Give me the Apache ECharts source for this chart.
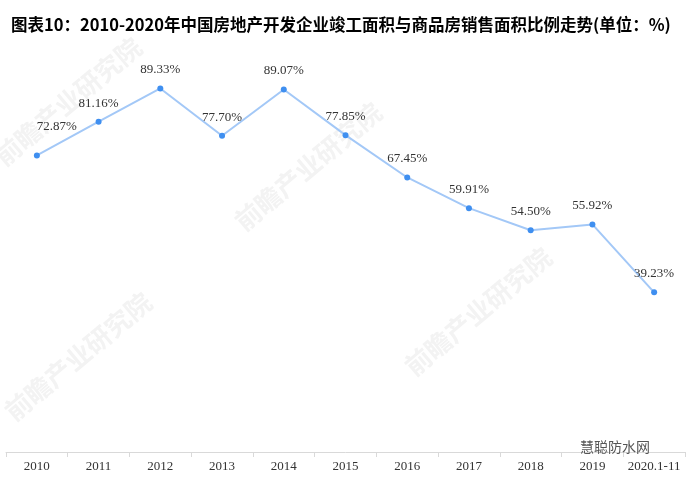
<!DOCTYPE html>
<html>
<head>
<meta charset="utf-8">
<style>
  html, body { margin: 0; padding: 0; background: #fff; }
  #myChart { width: 694px; height: 482px; }
</style>
<script src="https://cdn.jsdelivr.net/npm/echarts@6/dist/echarts.min.js"></script>
</head>
<body>
<div id="myChart"></div>
<script>
  // 年份
  var categories = ['2010', '2011', '2012', '2013', '2014', '2015', '2016', '2017', '2018', '2019', '2020.1-11'];
  // 竣工面积与销售面积比例(%)
  var ratioValues = [72.87, 81.16, 89.33, 77.70, 89.07, 77.85, 67.45, 59.91, 54.50, 55.92, 39.23];
  var titleText = '图表10：2010-2020年中国房地产开发企业竣工面积与商品房销售面积比例走势(单位：%)';

  var myChart = echarts.init(document.getElementById('myChart'));

  var seriesData = ratioValues.map(function (v, i) {
    if (i === 0) {
      // 第一个标签往右挪一点
      return { value: v, label: { offset: [20, -10] } };
    }
    return v;
  });

  function watermark(x, y) {
    return {
      type: 'text', x: x, y: y, rotation: Math.PI / 4.5, z: 0,
      style: { text: '前瞻产业研究院', fill: '#f3f3f3', font: 'bold 26px "Noto Sans CJK SC"' }
    };
  }

  var option = {
    backgroundColor: '#fff',
    animation: false,
    title: {
      text: titleText,
      left: 6,
      top: 11,
      textStyle: {
        color: '#000',
        fontWeight: 'bold',
        fontSize: 16.5,
        fontFamily: 'Noto Sans CJK SC'
      }
    },
    grid: {
      left: 6,
      right: 9,
      top: 45,
      bottom: 30
    },
    xAxis: {
      type: 'category',
      boundaryGap: true,
      data: categories,
      axisLine: {
        show: true,
        lineStyle: { color: '#d9d9d9' }
      },
      axisTick: {
        show: true,
        lineStyle: { color: '#d9d9d9' }
      },
      axisLabel: {
        color: '#333',
        fontSize: 13,
        fontFamily: 'Liberation Serif',
        margin: 8,
        interval: 0
      }
    },
    yAxis: {
      type: 'value',
      min: 0,
      max: 100,
      show: false,
      splitLine: { show: false }
    },
    graphic: [
      // 水印
      { type: 'text', left: 580, top: 440, z: 10,
        style: { text: '慧聪防水网', fill: '#555', font: '14px "Noto Sans CJK SC"' } },
      watermark(-10, 150),
      watermark(230, 215),
      watermark(0, 405),
      watermark(400, 360)
    ],
    series: [
      {
        name: '比例',
        type: 'line',
        data: seriesData,
        symbol: 'circle',
        symbolSize: 6,
        itemStyle: { color: '#3f8ff0' },
        lineStyle: { color: '#a3c8f7', width: 2 },
        label: {
          show: true,
          position: 'top',
          distance: 9,
          color: '#333',
          fontSize: 13,
          fontFamily: 'Liberation Serif',
          formatter: function (p) {
            return Number(p.value).toFixed(2) + '%';
          }
        },
        z: 5
      }
    ]
  };

  myChart.setOption(option);
</script>
</body>
</html>
